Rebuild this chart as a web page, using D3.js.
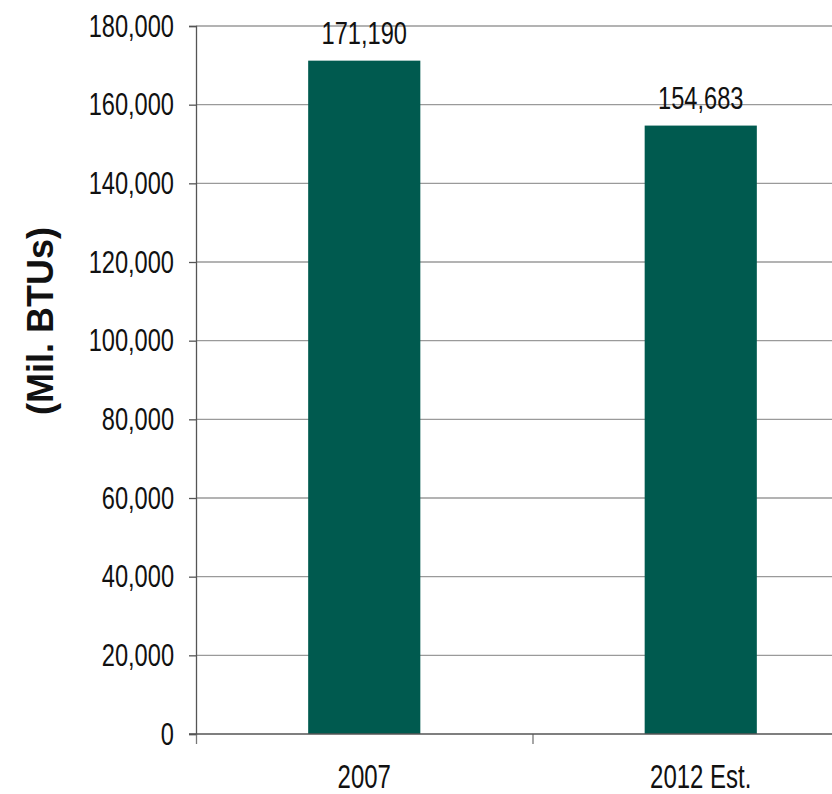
<!DOCTYPE html>
<html>
<head>
<meta charset="utf-8">
<script src="https://cdn.jsdelivr.net/npm/d3@7"></script>
<style>
  html, body { margin: 0; padding: 0; background: #fff; }
  svg { display: block; }
  .narrow { font-family: "Liberation Sans Narrow", "Arial Narrow", "Liberation Sans", Arial, sans-serif; }
</style>
</head>
<body>
<svg id="chart" width="832" height="794"></svg>
<script>
const categories = ["2007", "2012 Est."];
const values = [171190, 154683];
const yTicks = [0, 20000, 40000, 60000, 80000, 100000, 120000, 140000, 160000, 180000];
const yTitle = "(Mil. BTUs)";

(function() {
const svg = d3.select("#chart");
const mLeft = 196, mRight = 869, mTop = 26, mBottom = 734;

const x = d3.scaleBand().domain(categories).range([mLeft, mRight]).padding(0);
const y = d3.scaleLinear().domain([0, 180000]).range([mBottom, mTop]);
const fmt = d3.format(",");

// gridlines
svg.append("g").selectAll("line").data(yTicks.filter(d => d > 0)).join("line")
  .attr("x1", mLeft).attr("x2", 832)
  .attr("y1", d => y(d)).attr("y2", d => y(d))
  .attr("stroke", "#9a9a9a").attr("stroke-width", 1.3);

// bars
const bw = x.bandwidth();
svg.append("g").selectAll("rect").data(categories).join("rect")
  .attr("x", d => x(d) + bw / 3)
  .attr("width", bw / 3)
  .attr("y", (d, i) => y(values[i]))
  .attr("height", (d, i) => y(0) - y(values[i]))
  .attr("fill", "#005a4f");

// y axis
const yAxis = d3.axisLeft(y).tickValues(yTicks).tickFormat(fmt).tickSize(7).tickPadding(15);
const gy = svg.append("g").attr("transform", `translate(${mLeft},0)`).call(yAxis);
gy.select(".domain").attr("stroke", "#555").attr("stroke-width", 1.3);
gy.selectAll(".tick line").attr("stroke", "#555").attr("stroke-width", 1.3);
gy.selectAll(".tick text").attr("class", "narrow lab").attr("data-f", 0.9).attr("font-size", 32).attr("fill", "#111");

// x axis
const xAxis = d3.axisBottom(d3.scaleLinear().domain([0, 1]).range([mLeft, mRight])).tickValues([0, 0.5]).tickSize(10).tickFormat("");
const gx = svg.append("g").attr("transform", `translate(0,${mBottom})`).call(xAxis);
gx.select(".domain").remove();
gx.append("line").attr("x1", mLeft - 7).attr("x2", 832).attr("stroke", "#555").attr("stroke-width", 1.3);
gx.selectAll(".tick line").attr("stroke", "#777").attr("stroke-width", 1.3);

// category labels
svg.append("g").selectAll("text").data(categories).join("text")
  .attr("class", "narrow lab")
  .attr("data-f", 0.86)
  .attr("x", d => x(d) + bw / 2)
  .attr("y", 788)
  .attr("text-anchor", "middle")
  .attr("font-size", 34)
  .attr("fill", "#111")
  .text(d => d);

// value labels
svg.append("g").selectAll("text").data(categories).join("text")
  .attr("class", "narrow lab")
  .attr("data-f", 0.9)
  .attr("x", d => x(d) + bw / 2)
  .attr("y", (d, i) => y(values[i]) - 17)
  .attr("text-anchor", "middle")
  .attr("font-size", 32)
  .attr("fill", "#111")
  .text((d, i) => fmt(values[i]));

// y title
svg.append("text")
  .attr("transform", "translate(53,321) rotate(-90)")
  .attr("text-anchor", "middle")
  .attr("font-family", "'Liberation Sans', Arial, sans-serif")
  .attr("font-weight", "bold")
  .attr("font-size", 36)
  .attr("fill", "#111")
  .text(yTitle);

// condense text (narrow font fallback aware)
const probe = svg.append("text").attr("class", "narrow").attr("font-size", 30).text("180,000");
const w = probe.node().getComputedTextLength();
probe.remove();
const base = w > 95 ? 0.82 : 1;
svg.selectAll("text.lab").each(function() {
  const f = base * (+this.getAttribute("data-f") || 1);
  const len = this.getComputedTextLength();
  d3.select(this).attr("textLength", len * f).attr("lengthAdjust", "spacingAndGlyphs");
});
})();
</script>
</body>
</html>
